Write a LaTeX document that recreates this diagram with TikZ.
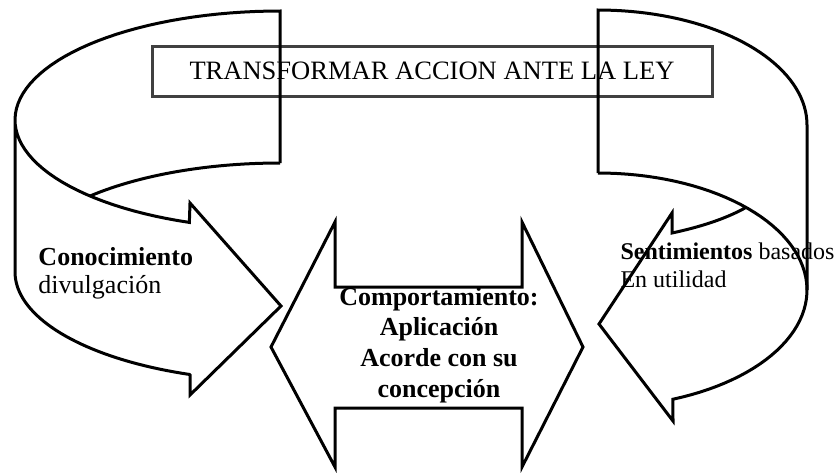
\documentclass[tikz,border=0pt]{standalone}
\usepackage{fontspec}
\setmainfont{Liberation Serif}

\definecolor{boxgray}{RGB}{64,64,64}

\begin{document}
\begin{tikzpicture}[x=0.75pt, y=-0.75pt, every path/.style={line width=2.25pt}, lbl/.style={inner sep=0pt, align=left, anchor=base west}]
    \useasboundingbox (0,0) rectangle (838,472);

    \node (title) [draw=boxgray, minimum width=420pt, minimum height=37.5pt, inner sep=0pt, font=\fontsize{19.9}{22}\selectfont, at={(432,71)}] {TRANSFORMAR ACCION ANTE LA LEY};
    \node (conoc) [lbl, font=\fontsize{19.5}{21}\selectfont, at={(37,293)}] {\textbf{Conocimiento}\\divulgación};
    \node (sentim) [lbl, font=\fontsize{18}{20.3}\selectfont, at={(619,287)}] {\textbf{Sentimientos} basados\\En utilidad};
    \node (comport) [inner sep=0pt, align=center, anchor=base, font=\bfseries\fontsize{19.5}{23}\selectfont, at={(439,397)}] {Comportamiento:\\Aplicación\\Acorde con su\\concepción};

    % left curved arrow
    \draw (280,163) -- (280,11)
        -- plot[domain=90:250, samples=60] ({280+265*cos(\x)}, {120-109*sin(\x)})
        -- (190,203) -- (281,306) -- (190,395) -- (190,375)
        -- plot[domain=250:180, samples=40] ({280+265*cos(\x)}, {272-109*sin(\x)})
        -- (15,120);
    \draw plot[domain=90:135.8, samples=30] ({280+265*cos(\x)}, {272-109*sin(\x)});

    % right curved arrow
    \draw (598,173) -- (598,10)
        -- plot[domain=90:0, samples=40] ({598+209*cos(\x)}, {125-115*sin(\x)})
        -- (807,290);
    \draw plot[domain=90:-69, samples=60] ({598+209*cos(\x)}, {290-117*sin(\x)})
        -- (673,421) -- (599,324) -- (672,213) -- (672,233)
        .. controls (700,227) and (725,219) .. (745,208);

    % double arrow
    \draw (271,347) -- (335,222) -- (335,287) -- (522,287) -- (522,222) -- (583,347)
        -- (522,467) -- (522,408) -- (335,408) -- (335,467) -- cycle;
\end{tikzpicture}
\end{document}
